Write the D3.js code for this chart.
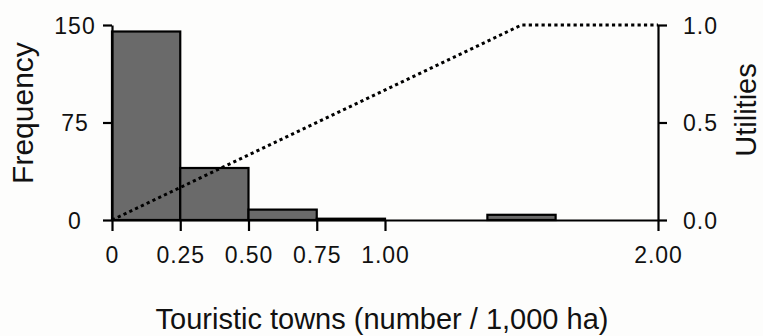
<!DOCTYPE html>
<html>
<head>
<meta charset="utf-8">
<script src="https://cdn.jsdelivr.net/npm/d3@7"></script>
<style>
  html, body { margin: 0; padding: 0; background: #fdfdfc; }
  svg { display: block; }
  text { font-family: "Liberation Sans", Arial, sans-serif; fill: #111; }
</style>
</head>
<body>
<svg id="chart" width="763" height="336"></svg>
<script>
// Histogram bins (lower / upper edge) and their counts
const binStart = [0, 0.25, 0.50, 0.75, 1.375];
const binEnd   = [0.25, 0.50, 0.75, 1.00, 1.625];
const counts   = [145, 40, 8, 1, 4];

// Utility function (piecewise linear)
const utilX = [0, 1.5, 2.0];
const utilY = [0, 1.0, 1.0];

// Axis ticks
const xTicks = [0, 0.25, 0.50, 0.75, 1.00, 2.00];
const xTickLabels = ["0", "0.25", "0.50", "0.75", "1.00", "2.00"];
const freqTicks = [0, 75, 150];
const utilTicks = [0, 0.5, 1.0];

const xTitle = "Touristic towns (number / 1,000 ha)";
const yTitle = "Frequency";
const y2Title = "Utilities";

const svg = d3.select("#chart");
const plotLeft = 112, plotRight = 658, plotTop = 25, plotBottom = 220;

const x = d3.scaleLinear().domain([0, 2]).range([plotLeft, plotRight]);
const y = d3.scaleLinear().domain([0, 150]).range([plotBottom, plotTop]);
const y2 = d3.scaleLinear().domain([0, 1]).range([plotBottom, plotTop]);

// Bars
const bins = counts.map((c, i) => ({ x0: binStart[i], x1: binEnd[i], n: c }));
svg.append("g").selectAll("rect").data(bins).join("rect")
  .attr("x", d => x(d.x0))
  .attr("y", d => y(d.n))
  .attr("width", d => x(d.x1) - x(d.x0))
  .attr("height", d => y(0) - y(d.n))
  .attr("fill", "#6a6a6a")
  .attr("stroke", "#000")
  .attr("stroke-width", 2.2);

// Utility curve
const line = d3.line().x(d => x(d[0])).y(d => y2(d[1]));
svg.append("path")
  .datum(utilX.map((v, i) => [v, utilY[i]]))
  .attr("d", line)
  .attr("fill", "none")
  .attr("stroke", "#000")
  .attr("stroke-width", 3)
  .attr("stroke-dasharray", "3.2,3.2");

function styleAxis(g) {
  g.selectAll("path.domain").attr("stroke", "#000").attr("stroke-width", 2.2);
  g.selectAll(".tick line").attr("stroke", "#000").attr("stroke-width", 2.2);
  g.selectAll(".tick text")
    .attr("fill", "#111")
    .style("font-family", "'Liberation Sans', Arial, sans-serif")
    .style("font-size", "23px")
    .style("letter-spacing", "1px");
}

// Bottom axis
const gx = svg.append("g")
  .attr("transform", `translate(0,${plotBottom})`)
  .call(d3.axisBottom(x).tickValues(xTicks)
    .tickFormat((d, i) => xTickLabels[i]).tickSize(11).tickSizeOuter(0));
styleAxis(gx);
gx.selectAll(".tick text").attr("y", 43).attr("dy", 0);

// Left axis (frequency)
const gy = svg.append("g")
  .attr("transform", `translate(${plotLeft},0)`)
  .call(d3.axisLeft(y).tickValues(freqTicks).tickSize(9).tickSizeOuter(0));
styleAxis(gy);
gy.selectAll(".tick text").attr("x", -37).attr("dy", "0.35em")
  .attr("text-anchor", "middle");

// Right axis (utilities)
const gy2 = svg.append("g")
  .attr("transform", `translate(${plotRight},0)`)
  .call(d3.axisRight(y2).tickValues(utilTicks).tickFormat(d3.format(".1f"))
    .tickSize(9).tickSizeOuter(0));
styleAxis(gy2);
gy2.selectAll(".tick text").attr("x", 25).attr("dy", "0.35em");

// Titles
svg.append("text")
  .attr("x", 382).attr("y", 329)
  .attr("text-anchor", "middle")
  .style("font-size", "29px")
  .text(xTitle);

svg.append("text")
  .attr("transform", "translate(33,113) rotate(-90)")
  .attr("text-anchor", "middle")
  .style("font-size", "30px")
  .text(yTitle);

svg.append("text")
  .attr("transform", "translate(756,110) rotate(-90)")
  .attr("text-anchor", "middle")
  .style("font-size", "29px")
  .text(y2Title);
</script>
</body>
</html>
